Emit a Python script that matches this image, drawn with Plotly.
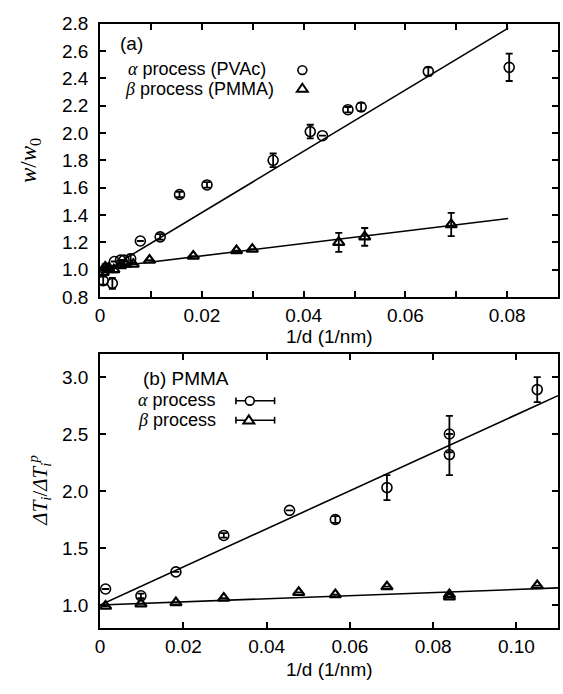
import plotly.graph_objects as go

# ---------------- data ----------------
# (a) normalised relaxation width versus inverse film thickness
a_alpha_x = [0.0006, 0.0010, 0.0024, 0.0028, 0.0040, 0.0047, 0.0060, 0.0079, 0.0118,
             0.0156, 0.0210, 0.0340, 0.0413, 0.0437, 0.0487, 0.0513, 0.0645, 0.0804]
a_alpha_y = [0.92, 1.00, 0.90, 1.06, 1.07, 1.07, 1.08, 1.21, 1.24,
             1.55, 1.62, 1.80, 2.01, 1.98, 2.17, 2.19, 2.45, 2.48]
a_alpha_err = [0.03, 0.02, 0.04, 0.0, 0.0, 0.0, 0.03, 0.0, 0.02,
               0.02, 0.02, 0.05, 0.05, 0.0, 0.02, 0.03, 0.03, 0.10]

a_beta_x = [0.0006, 0.0010, 0.0016, 0.0027, 0.0040, 0.0050, 0.0065, 0.0097, 0.0183,
            0.0268, 0.0299, 0.0469, 0.0520, 0.0690]
a_beta_y = [0.98, 1.02, 1.01, 1.00, 1.03, 1.04, 1.04, 1.07, 1.10,
            1.14, 1.15, 1.20, 1.24, 1.33]
a_beta_err = [0.02, 0.02, 0.0, 0.02, 0.0, 0.0, 0.0, 0.0, 0.0,
              0.0, 0.0, 0.07, 0.065, 0.085]

# linear fits (intercept, slope, x-start, x-end)
a_alpha_fit = (0.97, 22.4, 0.003, 0.0802)
a_beta_fit = (1.01, 4.55, 0.0, 0.0802)

# (b) PMMA: normalised transition broadening versus inverse film thickness
b_alpha_x = [0.0013, 0.0098, 0.0182, 0.0297, 0.0455, 0.0565, 0.0689, 0.0839, 0.0839, 0.1050]
b_alpha_y = [1.14, 1.08, 1.29, 1.61, 1.83, 1.75, 2.03, 2.50, 2.32, 2.89]
b_alpha_err = [0.0, 0.02, 0.0, 0.02, 0.0, 0.03, 0.11, 0.16, 0.18, 0.11]

b_beta_x = [0.0013, 0.0098, 0.0182, 0.0297, 0.0477, 0.0565, 0.0689, 0.0839, 0.0839, 0.1050]
b_beta_y = [0.99, 1.01, 1.02, 1.06, 1.11, 1.09, 1.16, 1.07, 1.09, 1.17]
b_beta_err = [0.0, 0.0, 0.0, 0.0, 0.0, 0.0, 0.0, 0.0, 0.0, 0.0]

b_alpha_fit = (1.0, 16.7, 0.0, 0.11)
b_beta_fit = (1.0, 1.36, 0.0, 0.11)

# ticks
a_xtick_vals = [0, 0.02, 0.04, 0.06, 0.08]
a_xtick_text = ["0", "0.02", "0.04", "0.06", "0.08"]
b_xtick_vals = [0, 0.02, 0.04, 0.06, 0.08, 0.10]
b_xtick_text = ["0", "0.02", "0.04", "0.06", "0.08", "0.10"]

# ---------------- layout helpers ----------------
W, H = 563, 694
FONT = "Liberation Sans, Arial, Helvetica, sans-serif"
SERIF = "Liberation Serif, Times New Roman, serif"
TICKSIZE = 19


def px(x):
    return x / W


def py(y):
    return 1 - y / H


def errs(vals):
    return [v if v > 0 else None for v in vals]


def fit_line(fit):
    b0, b1, x0, x1 = fit
    xs = [x0, x1]
    return xs, [b0 + b1 * x for x in xs]


fig = go.Figure()

err_style = dict(type="data", thickness=1.8, width=3.5, color="black", visible=True)
circle = dict(symbol="circle-open", size=10, color="black", line=dict(width=1.6, color="black"))
tri = dict(symbol="triangle-up-open", size=10, color="black", line=dict(width=2.2, color="black"))

# panel (a)
for fit in (a_alpha_fit, a_beta_fit):
    fx, fy = fit_line(fit)
    fig.add_trace(go.Scatter(x=fx, y=fy, mode="lines", line=dict(color="black", width=1.6),
                             xaxis="x", yaxis="y", showlegend=False, hoverinfo="skip"))
fig.add_trace(go.Scatter(x=a_alpha_x, y=a_alpha_y, mode="markers", marker=circle,
                         error_y=dict(array=errs(a_alpha_err), **err_style),
                         xaxis="x", yaxis="y", showlegend=False))
fig.add_trace(go.Scatter(x=a_beta_x, y=a_beta_y, mode="markers", marker=tri,
                         error_y=dict(array=errs(a_beta_err), **err_style),
                         xaxis="x", yaxis="y", showlegend=False))

# panel (b)
for fit in (b_alpha_fit, b_beta_fit):
    fx, fy = fit_line(fit)
    fig.add_trace(go.Scatter(x=fx, y=fy, mode="lines", line=dict(color="black", width=1.6),
                             xaxis="x2", yaxis="y2", showlegend=False, hoverinfo="skip"))
fig.add_trace(go.Scatter(x=b_alpha_x, y=b_alpha_y, mode="markers", marker=circle,
                         error_y=dict(array=errs(b_alpha_err), **err_style),
                         xaxis="x2", yaxis="y2", showlegend=False))
fig.add_trace(go.Scatter(x=b_beta_x, y=b_beta_y, mode="markers", marker=tri,
                         error_y=dict(array=errs(b_beta_err), **err_style),
                         xaxis="x2", yaxis="y2", showlegend=False))

axis_common = dict(showline=True, linecolor="black", linewidth=2, mirror="allticks",
                   ticks="inside", ticklen=6, tickwidth=1.5, tickcolor="black",
                   showgrid=False, zeroline=False,
                   tickfont=dict(family=FONT, size=TICKSIZE, color="black"))

dom_x = [px(96), px(558)]
fig.update_layout(
    width=W, height=H,
    margin=dict(l=0, r=0, t=0, b=0),
    paper_bgcolor="white", plot_bgcolor="white",
    showlegend=False,
    xaxis=dict(domain=dom_x, anchor="y", range=[0, 0.09],
               tickvals=a_xtick_vals, ticktext=a_xtick_text,
               minor=dict(dtick=0.01, tick0=0, ticks="inside", ticklen=6, tickwidth=1.5,
                          tickcolor="black"),
               **axis_common),
    yaxis=dict(domain=[py(296), py(14)], anchor="x", range=[0.8, 2.8],
               dtick=0.2, tick0=0.8, tickformat=".1f", ticklabelstandoff=6,
               **axis_common),
    xaxis2=dict(domain=dom_x, anchor="y2", range=[0, 0.11],
                tickvals=b_xtick_vals, ticktext=b_xtick_text,
                **axis_common),
    yaxis2=dict(domain=[py(637), py(355)], anchor="x2", range=[0.8, 3.2],
                dtick=0.5, tick0=0, tickformat=".1f", ticklabelstandoff=6,
                **axis_common),
)

annos = []


def text(x, y, s, size=TICKSIZE, anchor="left", family=FONT, angle=0):
    annos.append(dict(x=px(x), y=py(y), xref="paper", yref="paper", text=s,
                      showarrow=False, xanchor=anchor, yanchor="middle", textangle=angle,
                      font=dict(family=family, size=size, color="black")))


greek = lambda g: f"<span style=\"font-family:'Liberation Serif'\"><i>{g}</i></span>"

# axis titles
text(327, 337, "1/d (1/nm)", anchor="center")
text(327, 680, "1/d (1/nm)", anchor="center")
text(26, 155, "<i>w</i>/<i>w</i><sub>0</sub>", size=23, anchor="center", family=SERIF, angle=-90)
text(35, 496, "<i>ΔT</i><sub><i>i</i></sub>/<i>ΔT</i><sub><i>i</i></sub><sup><i>p</i></sup>",
     size=21, anchor="center", family=SERIF, angle=-90)

# panel (a) key
text(114, 35, "(a)")
text(122, 61, greek("α") + " process (PVAc)", size=18)
text(119, 81, greek("β") + " process (PMMA)", size=18)

# panel (b) key
text(137, 380, "(b) PMMA")
text(132, 402, greek("α") + " process", size=18)
text(132, 423, greek("β") + " process", size=18)

fig.update_layout(annotations=annos)

shapes = []
LW = 1.6
# key symbols for panel (a)
r = 4.5
shapes.append(dict(type="circle", xref="paper", yref="paper",
                   x0=px(300 - r), x1=px(300 + r), y0=py(62 + r), y1=py(62 - r),
                   line=dict(color="black", width=LW)))


def tri_path(cx, cy, s=5.5):
    return (f"M {px(cx - s)} {py(cy + s * 0.6)} L {px(cx + s)} {py(cy + s * 0.6)} "
            f"L {px(cx)} {py(cy - s * 0.9)} Z")


shapes.append(dict(type="path", xref="paper", yref="paper", path=tri_path(300, 81),
                   line=dict(color="black", width=LW + 0.4)))

# key symbols for panel (b): horizontal error-bar sample with marker
for yy, kind in ((403, "c"), (423, "t")):
    shapes.append(dict(type="line", xref="paper", yref="paper", x0=px(233), x1=px(272),
                       y0=py(yy), y1=py(yy), line=dict(color="black", width=LW)))
    for xx in (233, 272):
        shapes.append(dict(type="line", xref="paper", yref="paper", x0=px(xx), x1=px(xx),
                           y0=py(yy - 3.5), y1=py(yy + 3.5), line=dict(color="black", width=LW)))
    if kind == "c":
        shapes.append(dict(type="circle", xref="paper", yref="paper",
                           x0=px(247 - r), x1=px(247 + r), y0=py(yy + r), y1=py(yy - r),
                           fillcolor="white", line=dict(color="black", width=LW)))
    else:
        shapes.append(dict(type="path", xref="paper", yref="paper", path=tri_path(246, yy),
                           fillcolor="white", line=dict(color="black", width=LW + 0.4)))

fig.update_layout(shapes=shapes)

fig.write_html("out.html")
